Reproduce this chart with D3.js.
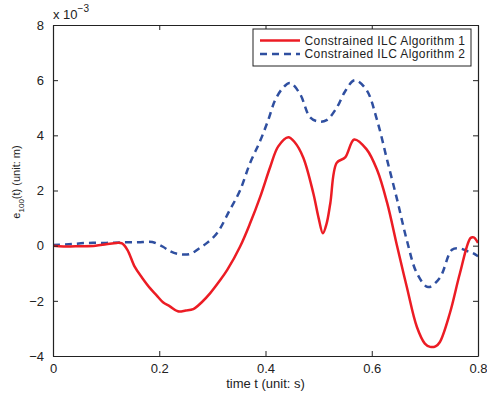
<!DOCTYPE html>
<html>
<head>
<meta charset="UTF-8">
<script src="https://d3js.org/d3.v7.min.js"></script>
<style>
  body { margin: 0; background: #fff; }
  svg { display: block; font-family: "Liberation Sans", Arial, sans-serif; }
</style>
</head>
<body>
<svg width="487" height="394"></svg>
<script>
// data (values in units of 1e-3 m)
const t1 = [0, 0.02, 0.05, 0.08, 0.10, 0.12, 0.13, 0.14, 0.154, 0.168, 0.183, 0.195, 0.207, 0.22, 0.235, 0.25, 0.264, 0.28, 0.296, 0.312, 0.328, 0.352, 0.371, 0.39, 0.409, 0.424, 0.443, 0.455, 0.471, 0.49, 0.50, 0.508, 0.515, 0.522, 0.534, 0.55, 0.567, 0.59, 0.61, 0.629, 0.648, 0.666, 0.685, 0.70, 0.71, 0.72, 0.728, 0.747, 0.766, 0.786, 0.792, 0.8];
const e1 = [0, -0.03, -0.02, 0.0, 0.05, 0.1, 0.08, -0.15, -0.77, -1.17, -1.55, -1.8, -2.05, -2.2, -2.38, -2.35, -2.3, -2.05, -1.72, -1.32, -0.88, -0.04, 0.81, 1.77, 2.86, 3.6, 3.93, 3.75, 3.2, 1.9, 1.0, 0.45, 0.8, 1.54, 3.0, 3.2, 3.85, 3.5, 2.75, 1.55, -0.04, -1.5, -2.95, -3.55, -3.67, -3.65, -3.5, -2.45, -1.0, 0.28, 0.3, 0.1];
const t2 = [0, 0.03, 0.066, 0.10, 0.13, 0.16, 0.187, 0.207, 0.22, 0.235, 0.258, 0.275, 0.29, 0.309, 0.333, 0.352, 0.371, 0.39, 0.405, 0.418, 0.432, 0.446, 0.465, 0.484, 0.50, 0.515, 0.534, 0.55, 0.568, 0.59, 0.61, 0.629, 0.648, 0.666, 0.685, 0.706, 0.728, 0.751, 0.766, 0.78, 0.79, 0.8];
const e2 = [0.02, 0.05, 0.1, 0.1, 0.12, 0.12, 0.13, -0.04, -0.2, -0.3, -0.3, -0.1, 0.1, 0.46, 1.3, 2.0, 3.0, 3.8, 4.55, 5.27, 5.7, 5.9, 5.5, 4.65, 4.5, 4.55, 5.0, 5.6, 6.0, 5.65, 4.55, 3.1, 1.65, 0.2, -1.0, -1.5, -1.17, -0.15, -0.1, -0.2, -0.27, -0.38];
const xTicks = [0, 0.2, 0.4, 0.6, 0.8];
const yTicks = [-4, -2, 0, 2, 4, 6, 8];
const seriesNames = ["Constrained ILC Algorithm 1", "Constrained ILC Algorithm 2"];

const margin = { top: 25, right: 9, bottom: 38, left: 53 };
const W = 487, H = 394;
const width = W - margin.left - margin.right;
const height = H - margin.top - margin.bottom;

const svg = d3.select("svg");
const g = svg.append("g").attr("transform", `translate(${margin.left},${margin.top})`);

const x = d3.scaleLinear().domain([0, 0.8]).range([0, width]);
const y = d3.scaleLinear().domain([-4, 8]).range([height, 0]);

const line = d3.line()
    .x(d => x(d[0]))
    .y(d => y(d[1]))
    .curve(d3.curveCatmullRom.alpha(0.5));

g.append("defs").append("clipPath").attr("id", "clip")
    .append("rect").attr("width", width).attr("height", height);

const plot = g.append("g").attr("clip-path", "url(#clip)");

plot.append("path")
    .attr("d", line(t2.map((t, i) => [t, e2[i]])))
    .attr("fill", "none")
    .attr("stroke", "#2f4fa0")
    .attr("stroke-width", 2.5)
    .attr("stroke-dasharray", "7,5");

plot.append("path")
    .attr("d", line(t1.map((t, i) => [t, e1[i]])))
    .attr("fill", "none")
    .attr("stroke", "#ec1c24")
    .attr("stroke-width", 2.5);

// axes, MATLAB style: inward ticks on all sides
const fmt = d => d3.format("")(d);
const axB = g.append("g").attr("transform", `translate(0,${height})`)
    .call(d3.axisBottom(x).tickValues(xTicks).tickSizeInner(-5).tickSizeOuter(0).tickPadding(8).tickFormat(fmt));
const axT = g.append("g")
    .call(d3.axisTop(x).tickValues(xTicks).tickSizeInner(-5).tickSizeOuter(0).tickFormat(""));
const axL = g.append("g")
    .call(d3.axisLeft(y).tickValues(yTicks).tickSizeInner(-5).tickSizeOuter(0).tickPadding(9).tickFormat(d => d < 0 ? "\u2212" + Math.abs(d) : d));
const axR = g.append("g").attr("transform", `translate(${width},0)`)
    .call(d3.axisRight(y).tickValues(yTicks).tickSizeInner(-5).tickSizeOuter(0).tickFormat(""));

[axB, axT, axL, axR].forEach(a => {
    a.select(".domain").attr("stroke", "#222").attr("stroke-width", 1.2);
    a.selectAll(".tick line").attr("stroke", "#222");
    a.selectAll("text").attr("font-size", 13).attr("fill", "#222")
        .attr("font-family", "'Liberation Sans', Arial, sans-serif");
});

// exponent label
const expo = svg.append("text").attr("x", margin.left).attr("y", 19)
    .attr("font-size", 13).attr("fill", "#222");
expo.append("tspan").text("x 10");
expo.append("tspan").attr("dy", -7).attr("font-size", 10).text("\u22123");

// axis titles
svg.append("text")
    .attr("x", margin.left + width / 2).attr("y", 388)
    .attr("text-anchor", "middle").attr("font-size", 13).attr("fill", "#222")
    .text("time t (unit: s)");

const yl = svg.append("text")
    .attr("transform", `translate(20,182) rotate(-90)`)
    .attr("text-anchor", "middle").attr("font-size", 11).attr("fill", "#222");
yl.append("tspan").text("e");
yl.append("tspan").attr("dy", 3.5).attr("font-size", 8).text("100");
yl.append("tspan").attr("dy", -3.5).text("(t) (unit: m)");

// legend
const lg = svg.append("g").attr("transform", "translate(253,29)");
lg.append("rect").attr("width", 218).attr("height", 37)
    .attr("fill", "#fff").attr("stroke", "#222").attr("stroke-width", 1);
const colors = ["#ec1c24", "#2f4fa0"];
const dashes = [null, "7,5"];
seriesNames.forEach((name, i) => {
    const yy = 11.5 + i * 13.5;
    lg.append("line").attr("x1", 7).attr("x2", 47).attr("y1", yy).attr("y2", yy)
        .attr("stroke", colors[i]).attr("stroke-width", 2.5)
        .attr("stroke-dasharray", dashes[i]);
    lg.append("text").attr("x", 51.5).attr("y", yy + 4.2)
        .attr("font-size", 12).attr("letter-spacing", 0.4)
        .attr("fill", "#222").text(name);
});
</script>
</body>
</html>
